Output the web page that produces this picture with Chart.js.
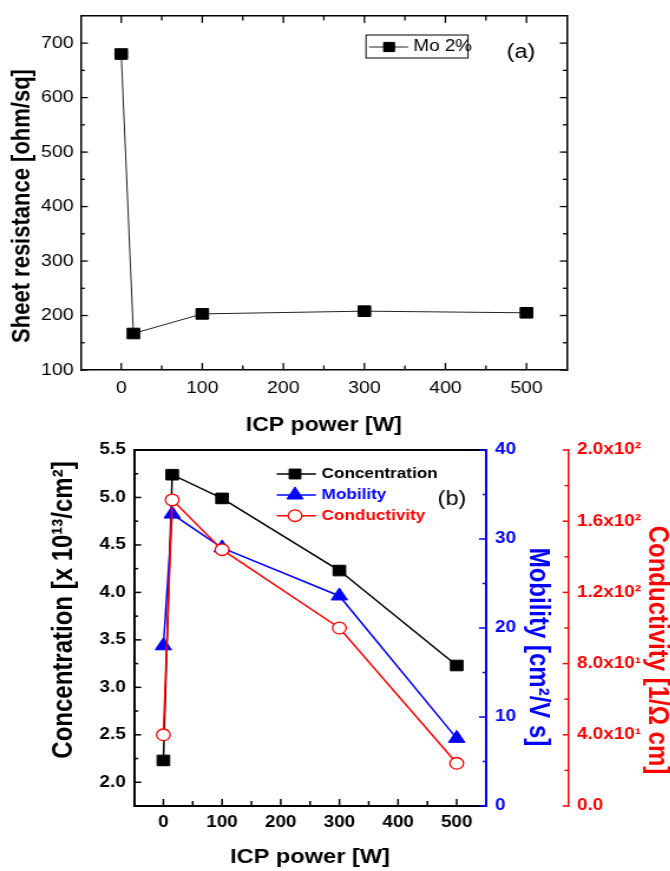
<!DOCTYPE html>
<html>
<head>
<meta charset="utf-8">
<script src="https://cdn.jsdelivr.net/npm/chart.js@4.4.1/dist/chart.umd.min.js"></script>
<style>
  html, body { margin: 0; padding: 0; background: #fff; overflow: hidden; }
  /* the reference is a little wider than tall, so the drawing is stretched sideways */
  .wrap { position: absolute; left: 0; transform: scaleX(1.18); transform-origin: 0 0; }
  #wrapA { top: 0; }
  #wrapB { top: 430px; }
  canvas { display: block; }
</style>
</head>
<body>
<div class="wrap" id="wrapA"><canvas id="sheetChart" width="568" height="440"></canvas></div>
<div class="wrap" id="wrapB"><canvas id="hallChart" width="568" height="441"></canvas></div>
<script>
// ---- data (a) ----
const sheetPower = [0, 15, 100, 300, 500];
const sheetRes = [680, 167, 203, 208, 205];

// ---- data (b) ----
const hallPower = [0, 15, 100, 300, 500];
const concentration = [2.23, 5.24, 4.99, 4.23, 3.23];
const mobility = [18.0, 32.8, 29.0, 23.6, 7.6];
const conductivity = [40, 172, 144, 100, 24];

// ---- ticks ----
const powerTicks = [0, 100, 200, 300, 400, 500];
const powerMinor = [50, 150, 250, 350, 450];
const resTicks = [100, 200, 300, 400, 500, 600, 700];
const resMinor = [150, 250, 350, 450, 550, 650];
const concTicks = [2.0, 2.5, 3.0, 3.5, 4.0, 4.5, 5.0, 5.5];
const concMinor = [2.25, 2.75, 3.25, 3.75, 4.25, 4.75, 5.25];
const mobTicks = [0, 10, 20, 30, 40];
const mobMinor = [5, 15, 25, 35];
const condTicks = [0, 40, 80, 120, 160, 200];
const condLabels = ['0.0', '4.0x10¹', '8.0x10¹', '1.2x10²', '1.6x10²', '2.0x10²'];
const condMinor = [20, 60, 100, 140, 180];

const FONT = '"Liberation Sans", Arial, Helvetica, sans-serif';
Chart.defaults.font.family = FONT;
Chart.defaults.color = '#000';

const BLUE = '#0000ff';
const RED = '#ff0000';

function points(xs, ys) {
    return xs.map((x, i) => ({ x: x, y: ys[i] }));
}

function setTicks(values) {
    return (scale) => { scale.ticks = values.map(v => ({ value: v })); };
}

function fixSize(px) {
    return (scale) => {
        if (scale.isHorizontal()) scale.height = px;
        else scale.width = px;
    };
}

// Origin style ticks, drawn inside the frame
function tickMarks(spec) {
    return {
        id: 'tickMarks',
        afterDraw(chart) {
            const ctx = chart.ctx;
            ctx.save();
            spec.forEach(s => {
                const scale = chart.scales[s.axis];
                ctx.strokeStyle = s.color;
                ctx.lineWidth = s.width;
                [[s.major, s.len], [s.minor, s.minorLen]].forEach(([vals, len]) => {
                    vals.forEach(v => {
                        const p = scale.getPixelForValue(v);
                        ctx.beginPath();
                        if (scale.position === 'left') { ctx.moveTo(scale.right, p); ctx.lineTo(scale.right + len, p); }
                        else if (scale.position === 'right') { ctx.moveTo(scale.left, p); ctx.lineTo(scale.left - len, p); }
                        else if (scale.position === 'bottom') { ctx.moveTo(p, scale.top); ctx.lineTo(p, scale.top - len); }
                        else { ctx.moveTo(p, scale.bottom); ctx.lineTo(p, scale.bottom + len); }
                        ctx.stroke();
                    });
                });
            });
            ctx.restore();
        }
    };
}

// axis titles and panel labels
function texts(list) {
    return {
        id: 'texts',
        afterDraw(chart) {
            const ctx = chart.ctx;
            const area = chart.chartArea;
            list.forEach(t => {
                ctx.save();
                const x = t.x == null ? (area.left + area.right) / 2 : t.x;
                ctx.translate(x, t.y);
                ctx.rotate((t.rot || 0) * Math.PI / 180);
                ctx.font = t.font;
                ctx.fillStyle = t.color || '#000';
                ctx.textAlign = t.align || 'center';
                ctx.textBaseline = 'middle';
                ctx.fillText(t.text, 0, 0);
                ctx.restore();
            });
        }
    };
}

function legend(rows, box) {
    return {
        id: 'insetLegend',
        afterDraw(chart) {
            const ctx = chart.ctx;
            ctx.save();
            if (box) {
                ctx.strokeStyle = '#000';
                ctx.lineWidth = 1;
                ctx.strokeRect(box.x, box.y, box.w, box.h);
            }
            rows.forEach(r => {
                const ds = chart.data.datasets[r.index];
                ctx.strokeStyle = ds.borderColor;
                ctx.lineWidth = ds.borderWidth;
                ctx.beginPath();
                ctx.moveTo(r.x0, r.y);
                ctx.lineTo(r.x1, r.y);
                ctx.stroke();
                ctx.fillStyle = ds.pointBackgroundColor;
                ctx.strokeStyle = ds.pointBorderColor;
                ctx.lineWidth = ds.pointBorderWidth;
                Chart.helpers.drawPoint(ctx, {
                    pointStyle: ds.pointStyle, rotation: 0,
                    radius: r.radius, borderWidth: ds.pointBorderWidth
                }, r.xm, r.y);
                ctx.font = r.font;
                ctx.fillStyle = r.color;
                ctx.textAlign = 'left';
                ctx.textBaseline = 'middle';
                ctx.fillText(ds.label, r.xt, r.y);
            });
            ctx.restore();
        }
    };
}

// ---------------- (a) sheet resistance ----------------
const frameA = { display: true, color: '#000', width: 1.5 };
const noGrid = { display: true, drawOnChartArea: false, drawTicks: false };

new Chart(document.getElementById('sheetChart'), {
    type: 'line',
    data: {
        datasets: [{
            label: 'Mo 2%',
            data: points(sheetPower, sheetRes),
            borderColor: '#222',
            borderWidth: 1,
            pointStyle: 'rect',
            pointRadius: 7.5,
            pointBackgroundColor: '#000',
            pointBorderColor: '#000',
            pointBorderWidth: 1,
            tension: 0
        }]
    },
    options: {
        responsive: false,
        animation: false,
        events: [],
        layout: { padding: 0 },
        plugins: { legend: { display: false }, tooltip: { enabled: false } },
        scales: {
            x: {
                type: 'linear', position: 'bottom', min: -50, max: 550,
                afterBuildTicks: setTicks(powerTicks), afterFit: fixSize(70),
                ticks: { font: { size: 16.5 }, padding: 9, color: '#000' },
                grid: noGrid, border: frameA
            },
            x2: {
                type: 'linear', position: 'top', min: -50, max: 550,
                afterFit: fixSize(13.3),
                ticks: { display: false }, grid: noGrid, border: frameA
            },
            y: {
                type: 'linear', position: 'left', min: 100, max: 750,
                afterBuildTicks: setTicks(resTicks), afterFit: fixSize(68.4),
                ticks: { font: { size: 16.5 }, padding: 6, color: '#000' },
                grid: noGrid, border: frameA
            },
            y2: {
                type: 'linear', position: 'right', min: 100, max: 750,
                afterFit: fixSize(87.5),
                ticks: { display: false }, grid: noGrid, border: frameA
            }
        }
    },
    plugins: [
        tickMarks([
            { axis: 'x', major: powerTicks, minor: powerMinor, len: 7, minorLen: 4.5, color: '#000', width: 1.3 },
            { axis: 'x2', major: powerTicks, minor: powerMinor, len: 7, minorLen: 4.5, color: '#000', width: 1.3 },
            { axis: 'y', major: resTicks, minor: resMinor, len: 6, minorLen: 3.5, color: '#000', width: 1.3 },
            { axis: 'y2', major: resTicks, minor: resMinor, len: 6, minorLen: 3.5, color: '#000', width: 1.3 }
        ]),
        texts([
            { text: 'Sheet resistance [ohm/sq]', x: 19, y: 206, rot: -90, font: 'bold 22px ' + FONT },
            { text: 'ICP power [W]', x: null, y: 426, font: 'bold 19.5px ' + FONT },
            { text: '(a)', x: 441.5, y: 52, font: '20px ' + FONT }
        ]),
        legend([
            { index: 0, x0: 312.7, x1: 345.8, xm: 329.7, xt: 350.3, y: 47, radius: 6.5, font: '16px ' + FONT, color: '#000' }
        ], { x: 310.2, y: 35, w: 86.4, h: 23 })
    ]
});

// ---------------- (b) Hall data ----------------
const frameB = { display: true, color: '#000', width: 2 };

new Chart(document.getElementById('hallChart'), {
    type: 'line',
    data: {
        datasets: [{
            label: 'Concentration',
            data: points(hallPower, concentration),
            yAxisID: 'yConc',
            order: 3,
            borderColor: '#000',
            borderWidth: 1.5,
            pointStyle: 'rect',
            pointRadius: 7.5,
            pointBackgroundColor: '#000',
            pointBorderColor: '#000',
            pointBorderWidth: 1,
            tension: 0
        }, {
            label: 'Mobility',
            data: points(hallPower, mobility),
            yAxisID: 'yMob',
            order: 2,
            borderColor: BLUE,
            borderWidth: 1.5,
            pointStyle: 'triangle',
            pointRadius: 8,
            pointBackgroundColor: BLUE,
            pointBorderColor: BLUE,
            pointBorderWidth: 1,
            tension: 0
        }, {
            label: 'Conductivity',
            data: points(hallPower, conductivity),
            yAxisID: 'yCond',
            order: 1,
            borderColor: RED,
            borderWidth: 1.5,
            pointStyle: 'circle',
            pointRadius: 5.8,
            pointBackgroundColor: '#fff',
            pointBorderColor: RED,
            pointBorderWidth: 1.3,
            tension: 0
        }]
    },
    options: {
        responsive: false,
        animation: false,
        events: [],
        layout: { padding: 0 },
        plugins: { legend: { display: false }, tooltip: { enabled: false } },
        scales: {
            x: {
                type: 'linear', position: 'bottom', min: -50, max: 550,
                afterBuildTicks: setTicks(powerTicks), afterFit: fixSize(65),
                ticks: { font: { size: 16, weight: 'bold' }, padding: 7, color: '#000' },
                grid: noGrid, border: frameB
            },
            x2: {
                type: 'linear', position: 'top', min: -50, max: 550,
                afterFit: fixSize(20),
                ticks: { display: false }, grid: noGrid, border: frameB
            },
            yConc: {
                type: 'linear', position: 'left', min: 1.75, max: 5.5,
                afterBuildTicks: setTicks(concTicks), afterFit: fixSize(113.6),
                ticks: { font: { size: 16, weight: 'bold' }, padding: 7, color: '#000',
                         callback: (v) => v.toFixed(1) },
                grid: noGrid, border: frameB
            },
            yMob: {
                type: 'linear', position: 'right', min: 0, max: 40,
                afterBuildTicks: setTicks(mobTicks), afterFit: fixSize(69.5),
                ticks: { font: { size: 16, weight: 'bold' }, padding: 7.6, color: BLUE },
                grid: noGrid, border: { display: true, color: BLUE, width: 2 }
            },
            yCond: {
                type: 'linear', position: 'right', min: 0, max: 200,
                afterBuildTicks: setTicks(condTicks), afterFit: fixSize(86.6),
                ticks: { font: { size: 16, weight: 'bold' }, padding: 7.6, color: RED,
                         callback: (v, i) => condLabels[i] },
                grid: noGrid, border: { display: true, color: RED, width: 1.5 }
            }
        }
    },
    plugins: [
        tickMarks([
            { axis: 'x', major: powerTicks, minor: powerMinor, len: 7, minorLen: 5, color: '#000', width: 1.5 },
            { axis: 'yConc', major: concTicks, minor: concMinor, len: 6, minorLen: 3.5, color: '#000', width: 1.5 },
            { axis: 'yMob', major: mobTicks, minor: mobMinor, len: 6, minorLen: 3, color: BLUE, width: 1.5 },
            { axis: 'yCond', major: condTicks, minor: condMinor, len: 4.5, minorLen: 3, color: RED, width: 1.5 }
        ]),
        texts([
            { text: 'Concentration [x 10¹³/cm²]', x: 54, y: 180, rot: -90, font: 'bold 24px ' + FONT },
            { text: 'Mobility [cm²/V s]', x: 456, y: 217, rot: 90, font: 'bold 24px ' + FONT, color: BLUE },
            { text: 'Conductivity [1/Ω cm]', x: 557, y: 220, rot: 90, font: 'bold 24px ' + FONT, color: RED },
            { text: 'ICP power [W]', x: null, y: 427.7, font: 'bold 20px ' + FONT },
            { text: '(b)', x: 383, y: 69, font: '20px ' + FONT }
        ]),
        legend([
            { index: 0, x0: 234.5, x1: 267.8, xm: 250, xt: 272.6, y: 44, radius: 7, font: 'bold 14.5px ' + FONT, color: '#000' },
            { index: 1, x0: 234.5, x1: 267.8, xm: 250, xt: 272.6, y: 65, radius: 8, font: 'bold 14.5px ' + FONT, color: BLUE },
            { index: 2, x0: 234.5, x1: 267.8, xm: 250, xt: 272.6, y: 85.7, radius: 5.8, font: 'bold 14.5px ' + FONT, color: RED }
        ], null)
    ]
});
</script>
</body>
</html>
